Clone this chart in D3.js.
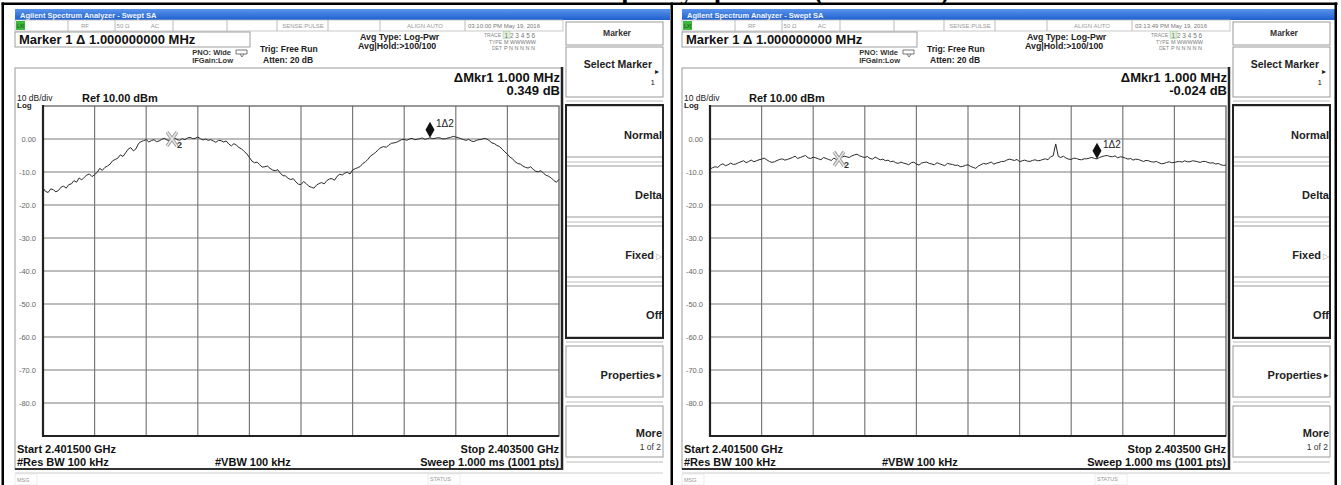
<!DOCTYPE html>
<html>
<head>
<meta charset="utf-8">
<script src="https://cdn.jsdelivr.net/npm/d3@7"></script>
<style>
  body { margin: 0; background: #fff; }
  svg { display: block; font-family: "Liberation Sans", Arial, sans-serif; }
</style>
</head>
<body>
<div id="chart"></div>
<script>
const W = 1341
const H = 485

// Dados
const pageTitle = "Frequency Spectrum (Continued)"
const startMHz = 2401.5
const stopMHz = 2403.5
const refLevel = 10
const dbPerDiv = 10
const yTickValues = [0, -10, -20, -30, -40, -50, -60, -70, -80]
const yTickLabels = ["0.00", "-10.0", "-20.0", "-30.0", "-40.0", "-50.0", "-60.0", "-70.0", "-80.0"]

// traco esquerdo (201 pontos, 2401.5 -> 2403.5 MHz)
const leftTrace = [
  -14.8, -15.9, -16.2, -15.1, -15.4, -16.0, -15.6, -14.6, -14.3, -14.9,
  -13.8, -13.6, -12.6, -13.1, -11.8, -12.4, -11.6, -10.9, -10.6, -11.4,
  -10.8, -10.1, -8.9, -9.5, -8.6, -8.2, -7.6, -6.6, -6.2, -5.8,
  -4.8, -5.3, -4.2, -3.1, -2.6, -3.6, -3.0, -1.4, -0.8, -0.5,
  -0.2, -0.9, -0.5, -0.2, -0.8, -0.6, -0.1, 0.2, -0.3, -0.5,
  0.0, 0.3, -0.2, -0.4, 0.1, -0.2, 0.3, 0.5, 0.1, 0.2,
  0.6, 0.1, -0.3, 0.0, -0.4, -0.2, -0.6, -1.0, -0.4, -0.5,
  -0.9, -0.6, -1.5, -2.1, -1.4, -1.9, -2.6, -3.0, -3.8, -4.5,
  -5.6, -6.7, -7.2, -7.0, -7.8, -8.5, -8.4, -8.2, -8.9, -9.4,
  -9.6, -9.3, -10.4, -11.1, -11.2, -11.9, -12.3, -12.0, -13.0, -13.7,
  -13.8, -12.9, -13.5, -14.3, -14.6, -14.9, -14.0, -13.5, -13.2, -13.6,
  -12.6, -12.1, -12.0, -12.5, -11.3, -10.7, -10.9, -10.3, -10.1, -10.6,
  -9.4, -9.0, -8.7, -8.3, -7.4, -6.9, -6.1, -5.1, -4.6, -4.0,
  -3.2, -2.6, -2.3, -2.5, -1.9, -1.3, -1.2, -1.0, -0.6, -0.2,
  -0.1, -0.4, 0.0, 0.2, -0.2, -0.1, 0.1, 0.3, -0.1, 0.1,
  0.35, 0.1, 0.2, 0.4, 0.3, 0.0, 0.1, 0.3, 0.5, 0.8,
  0.6, 0.4, 0.1, -0.2, -0.4, -0.1, -0.6, -0.8, -0.4, -0.2,
  -0.1, 0.2, 0.0, -0.5, -1.2, -1.4, -2.0, -2.3, -3.1, -3.9,
  -4.6, -5.5, -6.0, -6.9, -7.4, -7.6, -8.2, -8.6, -8.8, -8.4,
  -9.2, -9.8, -9.9, -9.6, -10.4, -11.0, -11.3, -11.8, -12.6, -13.1,
  -12.2
]

// traco direito (201 pontos)
const rightTrace = [
  -9.1, -8.7, -8.4, -8.6, -7.9, -7.5, -8.1, -7.8, -7.3, -7.7,
  -7.6, -7.2, -6.9, -6.6, -7.2, -6.8, -6.4, -6.9, -6.6, -6.3,
  -6.1, -5.8, -6.3, -6.8, -7.1, -6.9, -6.5, -6.2, -6.0, -6.4,
  -6.2, -5.9, -5.6, -5.2, -5.9, -5.6, -5.3, -5.0, -5.7, -5.9,
  -5.5, -5.7, -6.0, -6.3, -5.6, -5.9, -6.2, -6.5, -5.8, -6.2,
  -6.0, -5.6, -5.2, -5.4, -5.6, -5.1, -4.8, -4.6, -5.1, -5.4,
  -5.6, -5.3, -5.9, -6.1, -5.5, -5.9, -6.3, -6.1, -6.6, -6.4,
  -6.9, -6.7, -7.2, -7.4, -7.0, -7.3, -7.5, -7.8, -7.2, -7.0,
  -7.6, -7.9, -7.3, -7.1, -7.0, -7.4, -7.6, -7.8, -7.2, -7.5,
  -7.8, -8.1, -7.4, -7.6, -7.7, -8.0, -7.9, -8.4, -8.3, -8.0,
  -7.8, -8.3, -8.6, -8.9, -8.2, -7.8, -7.4, -7.6, -7.3, -7.0,
  -7.6, -7.3, -7.1, -6.8, -6.8, -6.4, -6.1, -6.3, -6.5, -6.2,
  -6.9, -6.6, -6.4, -6.7, -6.8, -6.5, -6.3, -6.6, -6.5, -6.2,
  -6.0, -6.3, -5.4, -5.1, -1.5, -5.3, -5.6, -5.2, -5.8, -6.1,
  -6.2, -5.8, -5.9, -6.2, -6.3, -6.0, -6.0, -5.8, -5.6, -5.9,
  -6.02, -5.6, -5.3, -5.1, -5.0, -5.3, -5.4, -5.1, -5.7, -5.4,
  -5.5, -5.8, -6.1, -5.9, -6.4, -6.1, -6.2, -6.5, -6.8, -6.5,
  -6.6, -6.9, -7.0, -6.8, -7.2, -7.5, -7.4, -7.1, -6.9, -7.2,
  -7.1, -6.9, -6.8, -7.0, -6.6, -6.9, -6.9, -6.6, -6.7, -6.9,
  -7.1, -6.8, -6.8, -7.1, -7.3, -7.2, -7.6, -7.4, -7.8, -8.0,
  -7.9
]

const panelTimes = ["03:10:00 PM May 19, 2016", "03:13:49 PM May 19, 2016"]
const panelDeltas = ["0.349 dB", "-0.024 dB"]
const marker2MHz = 2402.0
const marker1MHz = 2403.0

const softkeyLabels = ["Normal", "Delta", "Fixed", "Off", "Properties", "More"]
const softkeySub = ["", "", "", "", "", "1 of 2"]

const svg = d3.select("#chart")
  .append("svg")
  .attr("width", W)
  .attr("height", H)

const defs = svg.append("defs")
const grad = defs.append("linearGradient").attr("id", "bar").attr("x1", 0).attr("y1", 0).attr("x2", 0).attr("y2", 1)
grad.append("stop").attr("offset", "0%").attr("stop-color", "#5a94ec")
grad.append("stop").attr("offset", "100%").attr("stop-color", "#1d5fcc")

// Titulo (cortado no topo, como na imagem)
svg.append("text")
  .attr("x", 762).attr("y", 0)
  .attr("text-anchor", "middle")
  .style("font-family", "'Liberation Serif', 'Times New Roman', serif")
  .style("font-weight", "bold")
  .style("font-size", "26px")
  .text(pageTitle)

// escalas
const x = d3.scaleLinear().domain([startMHz, stopMHz]).range([43, 559])
const y = d3.scaleLinear().domain([refLevel - 10 * dbPerDiv, refLevel]).range([436, 106])

const txt = (g, px, py, s, size, opts = {}) => g.append("text")
  .attr("x", px).attr("y", py)
  .attr("text-anchor", opts.anchor || "start")
  .style("font-size", size + "px")
  .style("font-weight", opts.bold ? "bold" : "normal")
  .attr("fill", opts.fill || "#111")
  .text(s)

const drawPanel = (ox, trace, time, delta) => {
  const g = svg.append("g").attr("transform", `translate(${ox},0)`)

  // barra azul
  g.append("rect").attr("x", 15).attr("y", 9).attr("width", 655).attr("height", 11).attr("fill", "url(#bar)")
  txt(g, 20, 17.5, "Agilent Spectrum Analyzer - Swept SA", 7.5, { bold: true, fill: "#f2f6ff" })

  // linha de status
  g.append("rect").attr("x", 15).attr("y", 20).attr("width", 548).attr("height", 11)
    .attr("fill", "#fff").attr("stroke", "#bbb").attr("stroke-width", 0.8)
  g.append("rect").attr("x", 16).attr("y", 21).attr("width", 9).attr("height", 9).attr("fill", "#3cb83c")
  txt(g, 17, 28, "LXI", 5, { fill: "#114411" })
  ;[68, 115, 173, 227, 277, 328, 380, 465].forEach(sx => {
    g.append("line").attr("x1", sx).attr("x2", sx).attr("y1", 20).attr("y2", 31).attr("stroke", "#bbb")
  })
  txt(g, 85, 28, "RF", 6, { anchor: "middle", fill: "#999" })
  txt(g, 123, 28, "50 Ω", 6, { anchor: "middle", fill: "#999" })
  txt(g, 155, 28, "AC", 6, { anchor: "middle", fill: "#999" })
  txt(g, 303, 28, "SENSE:PULSE", 6, { anchor: "middle", fill: "#999" })
  txt(g, 425, 28, "ALIGN AUTO", 6, { anchor: "middle", fill: "#999" })
  txt(g, 468, 28, time, 6, { fill: "#777" })

  // caixa do marcador
  g.append("rect").attr("x", 15).attr("y", 32).attr("width", 235).attr("height", 15)
    .attr("fill", "#fff").attr("stroke", "#888").attr("stroke-width", 0.8)
  txt(g, 19, 44, "Marker 1 Δ 1.000000000 MHz", 13, { bold: true })
  txt(g, 231, 55, "PNO: Wide", 7.5, { bold: true, anchor: "end", fill: "#333" })
  txt(g, 233, 63, "IFGain:Low", 7.5, { bold: true, anchor: "end", fill: "#333" })
  g.append("path").attr("d", "M236,50 h11 v4 h-11 z M240,54 l2,3 l2,-3").attr("fill", "none").attr("stroke", "#555").attr("stroke-width", 0.8)
  txt(g, 260, 52, "Trig: Free Run", 8.5, { bold: true, fill: "#222" })
  txt(g, 263, 63, "Atten: 20 dB", 8.5, { bold: true, fill: "#222" })
  txt(g, 360, 40, "Avg Type: Log-Pwr", 8.8, { bold: true, fill: "#222" })
  txt(g, 358, 49, "Avg|Hold:>100/100", 8.8, { bold: true, fill: "#222" })

  // bloco TRACE
  txt(g, 501, 37, "TRACE", 5, { anchor: "end", fill: "#888" })
  g.append("rect").attr("x", 503).attr("y", 31.5).attr("width", 7).attr("height", 7).attr("fill", "#dff0d8").attr("stroke", "#9c9").attr("stroke-width", 0.5)
  txt(g, 504.5, 37.5, "1 2 3 4 5 6", 6.5, { fill: "#777" })
  txt(g, 502, 44, "TYPE", 5, { anchor: "end", fill: "#888" })
  txt(g, 504, 44, "M WWWWW", 5.5, { fill: "#777" })
  txt(g, 502, 50, "DET", 5, { anchor: "end", fill: "#888" })
  txt(g, 504, 50, "P N N N N N", 5.5, { fill: "#777" })

  // janela de exibicao
  g.append("rect").attr("x", 15).attr("y", 68).attr("width", 547).attr("height", 401)
    .attr("fill", "#fff").attr("stroke", "#999").attr("stroke-width", 1)
  g.append("line").attr("x1", 562).attr("x2", 562).attr("y1", 67).attr("y2", 470).attr("stroke", "#222").attr("stroke-width", 2.5)
  g.append("line").attr("x1", 15).attr("x2", 563).attr("y1", 469).attr("y2", 469).attr("stroke", "#333").attr("stroke-width", 2)

  txt(g, 560, 82, "ΔMkr1 1.000 MHz", 13, { bold: true, anchor: "end" })
  txt(g, 560, 95, delta, 13, { bold: true, anchor: "end" })
  txt(g, 17, 101, "10 dB/div", 8.5, { fill: "#222" })
  txt(g, 82, 102, "Ref 10.00 dBm", 11, { bold: true })
  txt(g, 17, 108, "Log", 8, { bold: true, fill: "#222" })

  // grade
  const xTicks = d3.range(0, 11).map(i => startMHz + i * (stopMHz - startMHz) / 10)
  const yTicks = d3.range(0, 11).map(i => refLevel - i * dbPerDiv)
  g.selectAll(".vgrid").data(xTicks.slice(1, 10)).enter().append("line")
    .attr("x1", d => x(d)).attr("x2", d => x(d)).attr("y1", y(refLevel)).attr("y2", y(refLevel - 100))
    .attr("stroke", "#7a7a7a").attr("stroke-width", 1.2)
  g.selectAll(".hgrid").data(yTicks.slice(1, 10)).enter().append("line")
    .attr("x1", x(startMHz)).attr("x2", x(stopMHz)).attr("y1", d => y(d)).attr("y2", d => y(d))
    .attr("stroke", "#7a7a7a").attr("stroke-width", 1.2)
  g.append("rect").attr("x", x(startMHz)).attr("y", y(refLevel))
    .attr("width", x(stopMHz) - x(startMHz)).attr("height", y(refLevel - 100) - y(refLevel))
    .attr("fill", "none").attr("stroke", "#555").attr("stroke-width", 1.2)
  g.append("line").attr("x1", x(startMHz)).attr("x2", x(startMHz)).attr("y1", y(refLevel) - 1).attr("y2", y(refLevel - 100) + 1)
    .attr("stroke", "#222").attr("stroke-width", 2.2)
  g.append("line").attr("x1", x(startMHz) - 1).attr("x2", x(stopMHz)).attr("y1", y(refLevel - 100)).attr("y2", y(refLevel - 100))
    .attr("stroke", "#222").attr("stroke-width", 2.2)

  g.selectAll(".ylab").data(yTickValues).enter().append("text")
    .attr("x", 36).attr("y", d => y(d) + 2.5)
    .attr("text-anchor", "end")
    .style("font-size", "7.5px")
    .attr("fill", "#666")
    .text((d, i) => yTickLabels[i])

  // traco
  const step = (stopMHz - startMHz) / (trace.length - 1)
  const line = d3.line().x((d, i) => x(startMHz + i * step)).y(d => y(d))
  g.append("path").datum(trace).attr("d", line)
    .attr("fill", "none").attr("stroke", "#2a2a2a").attr("stroke-width", 1).attr("stroke-linejoin", "round")

  // marcador 2 (referencia)
  const i2 = Math.round((marker2MHz - startMHz) / step)
  const mx2 = x(marker2MHz), my2 = y(trace[i2])
  const xPath = `M${mx2 - 5},${my2 - 7} L${mx2 + 5},${my2 + 7} M${mx2 + 5},${my2 - 7} L${mx2 - 5},${my2 + 7}`
  g.append("path").attr("d", xPath).attr("stroke", "#a0a0a0").attr("stroke-width", 3.5).attr("fill", "none")
  g.append("path").attr("d", xPath).attr("stroke", "#e8e8e8").attr("stroke-width", 1.4).attr("fill", "none")
  txt(g, mx2 + 5, my2 + 9, "2", 9, { bold: true, fill: "#333" })

  // marcador 1 (delta)
  const i1 = Math.round((marker1MHz - startMHz) / step)
  const mx1 = x(marker1MHz), my1 = y(trace[i1])
  g.append("path").attr("d", `M${mx1},${my1} L${mx1 - 4.5},${my1 - 8} L${mx1},${my1 - 16} L${mx1 + 4.5},${my1 - 8} Z`).attr("fill", "#111")
  txt(g, mx1 + 6, my1 - 11, "1Δ2", 10, { fill: "#222" })

  // rodape
  txt(g, 17, 453, "Start 2.401500 GHz", 11, { bold: true })
  txt(g, 17, 466, "#Res BW 100 kHz", 11, { bold: true })
  txt(g, 215, 466, "#VBW 100 kHz", 11, { bold: true })
  txt(g, 559, 453, "Stop 2.403500 GHz", 11, { bold: true, anchor: "end" })
  txt(g, 559, 466, "Sweep  1.000 ms (1001 pts)", 11, { bold: true, anchor: "end" })

  g.append("line").attr("x1", 15).attr("x2", 663).attr("y1", 473).attr("y2", 473).attr("stroke", "#ccc")
  g.append("rect").attr("x", 15).attr("y", 474).attr("width", 22).attr("height", 11).attr("fill", "none").attr("stroke", "#ddd").attr("stroke-width", 0.6)
  txt(g, 17, 482, "MSG", 5.5, { fill: "#999" })
  g.append("rect").attr("x", 428).attr("y", 474).attr("width", 32).attr("height", 11).attr("fill", "none").attr("stroke", "#ddd").attr("stroke-width", 0.6)
  txt(g, 430, 481, "STATUS", 5.5, { fill: "#999" })

  // teclas
  g.append("rect").attr("x", 566).attr("y", 22).attr("width", 97).attr("height", 23).attr("fill", "#fff").attr("stroke", "#999")
  txt(g, 617, 36, "Marker", 8.5, { bold: true, anchor: "middle", fill: "#333" })
  g.append("rect").attr("x", 566).attr("y", 47).attr("width", 97).attr("height", 50).attr("fill", "#fff").attr("stroke", "#999")
  txt(g, 652, 68, "Select Marker", 10.5, { bold: true, anchor: "end", fill: "#222" })
  txt(g, 659, 74, "▸", 8, { anchor: "end", fill: "#222" })
  txt(g, 655, 85, "1", 8, { anchor: "end", fill: "#222" })
  g.append("line").attr("x1", 566).attr("x2", 663).attr("y1", 101).attr("y2", 101).attr("stroke", "#bbb")

  softkeyLabels.forEach((lab, k) => {
    const top = 106 + k * 60
    g.append("rect").attr("x", 566).attr("y", top).attr("width", 97).attr("height", 51)
      .attr("fill", "#fff").attr("stroke", "#999")
    g.append("line").attr("x1", 566).attr("x2", 663).attr("y1", top + 56).attr("y2", top + 56).attr("stroke", "#bbb")
    const suffix = lab === "Fixed" ? 8 : (lab === "Properties" ? 7 : 0)
    txt(g, 662 - suffix, top + (softkeySub[k] ? 31 : 33), lab, 11, { bold: true, anchor: "end", fill: "#222" })
    if (lab === "Fixed") txt(g, 662, top + 33, "▷", 8, { anchor: "end", fill: "#aaa" })
    if (lab === "Properties") txt(g, 662, top + 32, "▸", 9, { anchor: "end", fill: "#222" })
    if (softkeySub[k]) txt(g, 661, top + 44, softkeySub[k], 8.5, { anchor: "end", fill: "#333" })
  })
  g.append("rect").attr("x", 566).attr("y", 105).attr("width", 97).attr("height", 233)
    .attr("fill", "none").attr("stroke", "#222").attr("stroke-width", 2)
}

drawPanel(0, leftTrace, panelTimes[0], panelDeltas[0])
drawPanel(667, rightTrace, panelTimes[1], panelDeltas[1])

// bordas da tabela
svg.append("rect").attr("x", 1.5).attr("y", 2.5).attr("width", 1336).attr("height", 2.5).attr("fill", "#000")
svg.append("rect").attr("x", 1.5).attr("y", 2.5).attr("width", 2.5).attr("height", H).attr("fill", "#000")
svg.append("rect").attr("x", 670.5).attr("y", 2.5).attr("width", 2.5).attr("height", H).attr("fill", "#000")
svg.append("rect").attr("x", 1334.5).attr("y", 2.5).attr("width", 2.5).attr("height", H).attr("fill", "#000")
svg.append("rect").attr("x", 1337).attr("y", 5).attr("width", 4).attr("height", H).attr("fill", "#fff")
</script>
</body>
</html>
